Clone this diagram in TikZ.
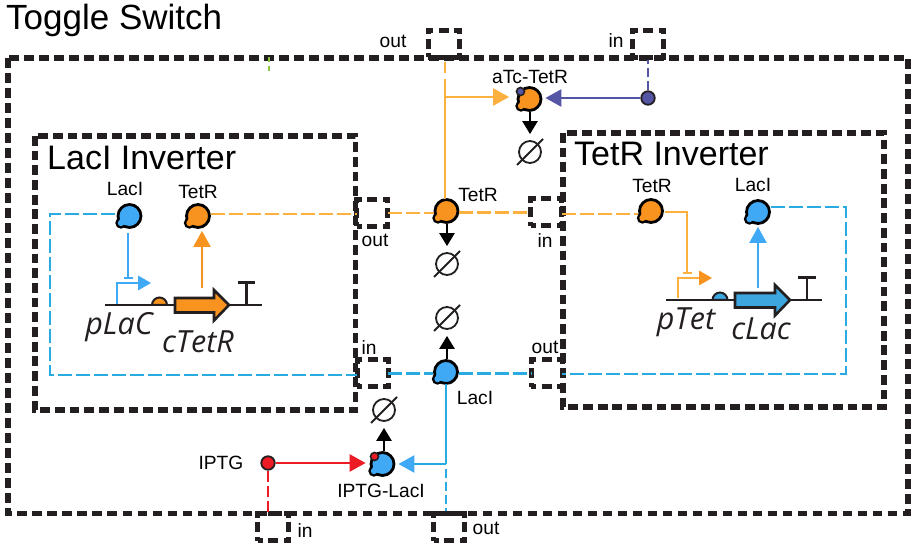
\documentclass[tikz,border=0pt]{standalone}
\usepackage{fontspec}
\setmainfont{Liberation Sans}
\newfontfamily\genefont{Open Sans}
\usetikzlibrary{arrows.meta,shapes.geometric}
\definecolor{orL}{HTML}{FBB040}
\definecolor{orF}{HTML}{F7931E}
\definecolor{blD}{HTML}{29ABE2}
\definecolor{blF}{HTML}{3FA9F5}
\definecolor{blC}{HTML}{3EA6DF}
\definecolor{pur}{HTML}{5555A5}
\definecolor{redd}{HTML}{ED1C24}
\definecolor{ink}{HTML}{231F20}
\definecolor{tick}{HTML}{8CC63F}
\tikzset{
  outerbox/.style={draw=ink,line width=5.2pt,dash pattern=on 9.8pt off 5.2pt},
  innerbox/.style={draw=ink,line width=5.2pt,dash pattern=on 9.8pt off 4.9pt},
  portbox/.style={draw=ink,line width=5pt,dash pattern=on 9pt off 5.5pt on 10pt off 5.5pt on 9pt off 4.5pt on 10pt off 4.5pt,dash phase=4pt,rectangle,minimum width=31pt,minimum height=27pt,inner sep=0pt,outer sep=0pt},
  speciesnode/.style={circle,draw=black,line width=2.8pt,minimum size=23pt,inner sep=0pt},
  dotnode/.style={circle,draw=ink,line width=1.8pt,minimum size=13.5pt,inner sep=0pt},
  emptynode/.style={circle,draw=ink,line width=1.8pt,minimum size=22pt,inner sep=0pt},
  lbl/.style={font=\fontsize{19.2pt}{20pt}\selectfont,inner sep=0pt},
  big/.style={font=\fontsize{34pt}{36pt}\selectfont,inner sep=0pt,anchor=base west},
  gene/.style={font=\genefont\itshape\fontsize{30.5pt}{32pt}\selectfont,text=ink,inner sep=0pt},
  dsh/.style={line width=2.2pt,dash pattern=on 14pt off 4pt},
  sol/.style={line width=2.5pt},
  tipbig/.style={-{Triangle[length=16pt,width=17pt]}},
  tipblk/.style={line width=2.5pt,black,shorten >=6pt,-{Triangle[length=13pt,width=15pt]}},
  tbar/.style={-{Bar[width=9pt,length=2pt]}},
}
% species: name, position, colour
\newcommand\species[3]{%
  \draw[black,line width=2.8pt,fill=#3] (#2) ++(-8.5,7) circle (4.2);
  \node[speciesnode,fill=#3] (#1) at (#2) {};
  \fill[#3] (#2) ++(-8.5,7) circle (3.2);
  \fill[#3] (#2) ++(-5,4) circle (5);
}
\newcommand\degr[2]{%
  \node[emptynode] (#1) at (#2) {};
  \draw[ink,line width=1.8pt] (#1.center) ++(-13,13) -- ++(26,-26);
}
\begin{document}
\begin{tikzpicture}[x=1pt,y=-1pt]
\useasboundingbox (0,0) rectangle (914,548);
\fill[white] (0,0) rectangle (914,548);
% containers
\draw[outerbox] (8,58) rectangle (908,513.5);
\draw[innerbox] (35,136) rectangle (355.5,410);
\draw[innerbox] (563,133) rectangle (884,407);
\node[big] (ttl) at (6,30) {\fontsize{35pt}{36pt}\selectfont Toggle Switch};
\node[big] (ttlL) at (47,170) {LacI Inverter};
\node[big] (ttlR) at (574,165.5) {TetR Inverter};
\draw[tick,line width=2pt,dash pattern=on 5pt off 4pt] (268.5,57) -- (268.5,71);
% ports
\node[portbox] (pTopOut) at (443.5,44) {};
\node[portbox] (pTopIn) at (648,44) {};
\node[portbox] (pLOut) at (372,213) {};
\node[portbox] (pRIn) at (546,212.5) {};
\node[portbox] (pLIn) at (372.5,373.5) {};
\node[portbox] (pROut) at (546.5,373.5) {};
\node[portbox] (pBIn) at (273,527) {};
\node[portbox] (pBOut) at (449,527) {};
% port labels
\node[lbl] (lo1) at (393,41) {out};
\node[lbl] (li1) at (616,41) {in};
\node[lbl] (lo2) at (375,240) {out};
\node[lbl] (li2) at (545,241) {in};
\node[lbl] (li3) at (369,348) {in};
\node[lbl] (lo3) at (545,347) {out};
\node[lbl] (li4) at (305,531) {in};
\node[lbl] (lo4) at (486,528) {out};
% species
\species{lacA}{129.5,216}{blF}
\species{tetA}{198,216}{orF}
\species{tetM}{446.5,211}{orF}
\species{tetB}{651,211}{orF}
\species{lacB}{758,212}{blF}
\species{lacM}{446,372}{blF}
\species{atcC}{529.5,99}{orF}
\species{iptC}{382.5,464}{blF}
\node[circle,draw=ink,line width=1.6pt,fill=pur,minimum size=8pt,inner sep=0pt] (atcS) at (520.5,91.5) {};
\node[circle,draw=ink,line width=1.6pt,fill=redd,minimum size=8pt,inner sep=0pt] (iptS) at (374.5,456.5) {};
\node[dotnode,fill=pur] (aTc) at (648,98) {};
\node[dotnode,fill=redd] (IPTG) at (268,463) {};
% species labels
\node[lbl] at (125,189) {LacI};
\node[lbl] at (198,192) {TetR};
\node[lbl] at (478,195) {TetR};
\node[lbl] at (652,186) {TetR};
\node[lbl] at (753,185) {LacI};
\node[lbl] at (475,398) {LacI};
\node[lbl] at (530,77) {aTc-TetR};
\node[lbl] at (381,491) {IPTG-LacI};
\node[lbl] at (221,463) {IPTG};
% degradation
\degr{d1}{530,152}
\degr{d2}{447,264}
\degr{d3}{447,318}
\degr{d4}{384,410}
\draw[tipblk] (d1.north |- atcC.south) -- (d1.north);
\draw[tipblk] (d2.north |- tetM.south) -- (d2.north);
\draw[tipblk] (d3.south |- lacM.north) -- (d3.south);
\draw[tipblk] (d4.south |- iptC.north) -- (d4.south);
% module-level connectors
\draw[orL,dsh] (tetA.8) -- (tetA.8 -| pLOut.west);
\draw[orL,dsh] (pLOut.east) -- (tetM.west |- pLOut.east);
\draw[orL,dsh] (tetM.east |- pRIn.west) -- (pRIn.west);
\draw[orL,dsh] (pRIn.east |- 0,214) -- (tetB.west |- 0,214);
\draw[blD,dsh] (pLIn.east) -- (lacM.west |- pLIn.east);
\draw[blD,dsh] (lacM.east |- pROut.west) -- (pROut.west);
\draw[orL,sol] (445,199) -- (445,90);
\draw[orL,line width=2.2pt,dash pattern=on 11pt off 6pt] (445,90) -- (445,60);
\coordinate (jO) at (445,97);
\draw[orL,sol,tipbig,shorten >=7.5pt] (jO) -- (atcC.west |- jO);
\draw[pur,sol,tipbig,shorten >=3pt] (aTc.west) -- (atcC.east |- aTc.west);
\draw[pur,line width=2pt,dash pattern=on 9pt off 4pt] (aTc.north) -- (aTc.north |- 0,60);
\coordinate (jB) at (446,464);
\draw[blD,sol] (446,384) -- (jB);
\draw[blD,sol] (jB) -- (405,464);
\draw[blF,sol,tipbig,shorten >=3pt] (408,464) -- (iptC.east);
\draw[blD,line width=2pt,dash pattern=on 9pt off 4pt] (446,469) -- (446,511);
\draw[redd,sol,tipbig,shorten >=4pt] (IPTG.east) -- (iptC.west |- IPTG.east);
\draw[redd,line width=2.2pt,dash pattern=on 11pt off 4pt] (IPTG.south) -- (IPTG.south |- pBIn.north);
% LacI inverter
\draw[ink,line width=2pt] (105,305) -- (262,305);
\draw[ink,line width=2.4pt] (246.5,305) -- (246.5,283);
\draw[ink,line width=3pt] (238,283) -- (255,283);
\draw[blF,line width=2.3pt] (117,304) -- (117,283) -- (140,283);
\fill[blF] (138,275.5) -- (151,283) -- (138,290.5) -- cycle;
\draw[ink,line width=2pt,fill=orF] (152,305) arc[start angle=180,end angle=360,radius=7.5] -- cycle;
\draw[ink,line width=2.6pt,fill=orF] (175,298) -- (214,298) -- (214,290) -- (229,305) -- (214,320.5) -- (214,312.5) -- (175,312.5) -- cycle;
\coordinate (inhA) at (128,279);
\draw[blF,line width=2.3pt,tbar] (128,233) -- (inhA);
\coordinate (prdA) at (202,288);
\draw[orF,line width=2.3pt,tipbig,shorten >=2pt] (prdA) -- (prdA |- tetA.south);
\draw[blD,dsh] (115,214) -- (50,214) -- (50,375) -- (pLIn.west |- 0,375);
\node[gene] (gA) at (119,327) {pLaC};
\node[gene] (gB) at (198,342) {cTetR};
% TetR inverter
\draw[ink,line width=2pt] (666,300) -- (822,300);
\draw[ink,line width=2.4pt] (807,300) -- (807,278);
\draw[ink,line width=3pt] (798,278) -- (816,278);
\draw[orL,line width=2.3pt] (678,298) -- (678,278) -- (700,278);
\fill[orF] (699,270.5) -- (712,278) -- (699,285.5) -- cycle;
\draw[ink,line width=2pt,fill=blC] (712.5,300) arc[start angle=180,end angle=360,radius=7.5] -- cycle;
\draw[ink,line width=2.6pt,fill=blC] (735,293) -- (775,293) -- (775,285) -- (790,300) -- (775,315.5) -- (775,307.5) -- (735,307.5) -- cycle;
\coordinate (inhB) at (687,274);
\draw[orL,line width=2.3pt,tbar] (665,212) -- (687,212) -- (inhB);
\coordinate (prdB) at (758,288);
\draw[blF,line width=2.3pt,tipbig,shorten >=2pt] (prdB) -- (prdB |- lacB.south);
\draw[blD,dsh] (771,207) -- (846,207) -- (846,374) -- (pROut.east |- 0,374);
\node[gene] (gC) at (686,322) {pTet};
\node[gene] (gD) at (761,329) {cLac};
\end{tikzpicture}
\end{document}
